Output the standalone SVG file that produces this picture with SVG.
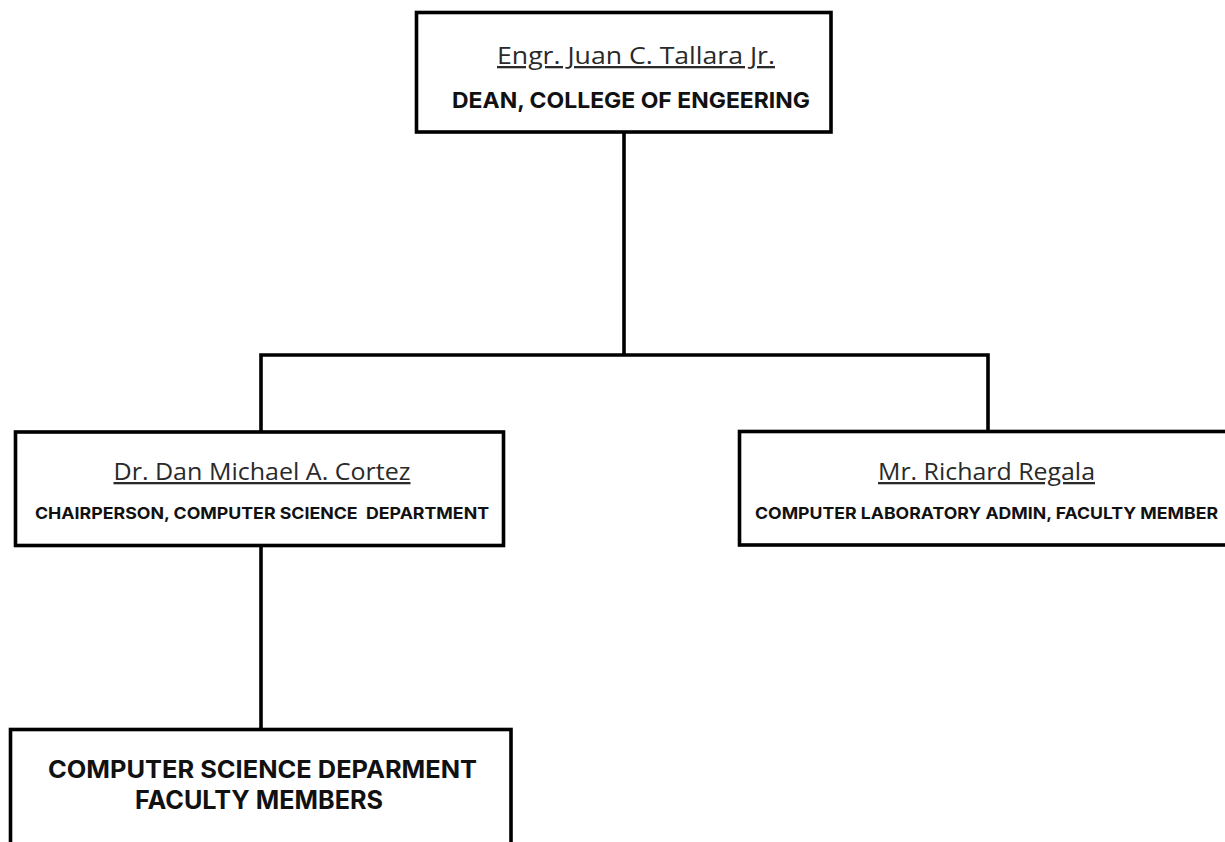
<svg xmlns="http://www.w3.org/2000/svg" width="1225" height="842" viewBox="0 0 1225 842">
  <style>
    .box { fill: #ffffff; stroke: #000000; stroke-width: 3.6; }
    .link { fill: none; stroke: #000000; stroke-width: 3.6; stroke-linecap: square; }
    .name { font-family: "Open Sans", "Liberation Sans", sans-serif; font-size: 23px; fill: #2a2a2a; text-decoration: underline; text-anchor: middle; }
    .role { font-family: Inter, "Open Sans", "Liberation Sans", sans-serif; font-weight: 700; fill: #111111; text-anchor: middle; white-space: pre; }
  </style>
  <rect width="1225" height="842" fill="#ffffff"/>

  <!-- connectors -->
  <g id="connectors">
    <path class="link" d="M624 132 V355 M261 355 H988 M261 355 V431 M988 355 V431"/>
    <path class="link" d="M261 546 V729"/>
  </g>

  <!-- dean -->
  <g id="dean">
    <rect class="box" x="416.5" y="12.5" width="414.5" height="119.5"/>
    <text class="name" x="636" y="64" textLength="278" lengthAdjust="spacingAndGlyphs">Engr. Juan C. Tallara Jr.</text>
    <text class="role" x="631" y="108" font-size="22" textLength="358" lengthAdjust="spacingAndGlyphs">DEAN, COLLEGE OF ENGEERING</text>
  </g>

  <!-- chairperson -->
  <g id="chairperson">
    <rect class="box" x="15.5" y="432" width="488" height="113.5"/>
    <text class="name" x="262" y="480" textLength="297" lengthAdjust="spacingAndGlyphs">Dr. Dan Michael A. Cortez</text>
    <text class="role" x="262" y="519" font-size="16" textLength="454" lengthAdjust="spacingAndGlyphs" xml:space="preserve">CHAIRPERSON, COMPUTER SCIENCE  DEPARTMENT</text>
  </g>

  <!-- lab admin -->
  <g id="lab-admin">
    <rect class="box" x="739.5" y="431.5" width="500" height="113.5"/>
    <text class="name" x="986.5" y="480" textLength="217" lengthAdjust="spacingAndGlyphs">Mr. Richard Regala</text>
    <text class="role" x="986.5" y="519" font-size="16" textLength="463" lengthAdjust="spacingAndGlyphs">COMPUTER LABORATORY ADMIN, FACULTY MEMBER</text>
  </g>

  <!-- faculty members -->
  <g id="faculty">
    <rect class="box" x="10.5" y="729.5" width="500.5" height="130"/>
    <text class="role" x="262.5" y="778" font-size="24" textLength="429" lengthAdjust="spacingAndGlyphs">COMPUTER SCIENCE DEPARMENT</text>
    <text class="role" x="259" y="809" font-size="25" textLength="248" lengthAdjust="spacingAndGlyphs">FACULTY MEMBERS</text>
  </g>
</svg>
